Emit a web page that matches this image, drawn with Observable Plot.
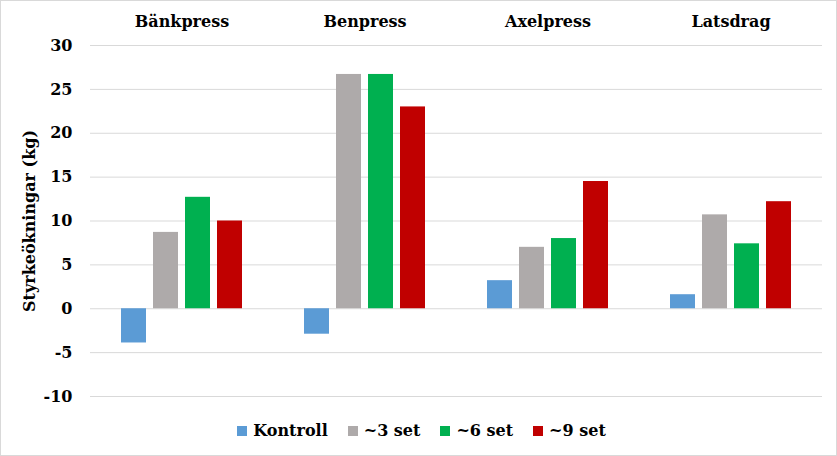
<!DOCTYPE html>
<html>
<head>
<meta charset="utf-8">
<script src="https://cdn.jsdelivr.net/npm/d3@7"></script>
<script src="https://cdn.jsdelivr.net/npm/@observablehq/plot@0.6"></script>
<style>
  html, body { margin: 0; padding: 0; background: #fff; }
  #wrap { position: relative; width: 837px; height: 456px; overflow: hidden; background: #fff; }
  #frame { position: absolute; inset: 0; border: 1px solid #d9d9d9; box-sizing: border-box; pointer-events: none; }
  #chart { position: absolute; left: 0; top: 0; }
  #legend { position: absolute; left: 0; top: 421px; width: 837px; display: flex; justify-content: center;
    font-family: "DejaVu Serif", "Liberation Serif", serif; font-weight: bold; font-size: 16px; color: #000; padding-left: 6px; box-sizing: border-box; }
  .item { display: flex; align-items: center; margin: 0 10px; }
  .sw { width: 10px; height: 10px; margin-right: 6px; }
</style>
</head>
<body>
<div id="wrap">
  <div id="chart"></div>
  <div id="legend"></div>
  <div id="frame"></div>
</div>
<script>
const categories = ["Bänkpress", "Benpress", "Axelpress", "Latsdrag"];
const series = ["Kontroll", "~3 set", "~6 set", "~9 set"];
const kontroll = [-3.9, -2.9, 3.2, 1.6];
const set3 = [8.7, 26.7, 7.0, 10.7];
const set6 = [12.7, 26.7, 8.0, 7.4];
const set9 = [10.0, 23.0, 14.5, 12.2];
const colors = ["#5b9bd5", "#aeaaaa", "#00b050", "#c00000"];
const yTicks = [-10, -5, 0, 5, 10, 15, 20, 25, 30];
const yLabel = "Styrkeökningar (kg)";

const valuesBySeries = [kontroll, set3, set6, set9];
const data = [];
categories.forEach((c, i) => {
  series.forEach((s, j) => {
    data.push({category: c, series: s, value: valuesBySeries[j][i]});
  });
});

const chart = Plot.plot({
  width: 837,
  height: 412,
  marginTop: 45,
  marginBottom: 16,
  marginLeft: 88,
  marginRight: 14,
  style: {fontFamily: "'DejaVu Serif', 'Liberation Serif', serif", fontSize: "16px", fontWeight: "bold", color: "#000", background: "transparent"},
  fx: {domain: categories, padding: 0},
  x: {domain: series, paddingInner: 0.21, paddingOuter: 0.89},
  y: {domain: [-10, 30]},
  color: {domain: series, range: colors},
  marks: [
    Plot.gridY(yTicks, {stroke: "#d9d9d9", strokeOpacity: 1, strokeWidth: 1}),
    Plot.barY(data, {fx: "category", x: "series", y: "value", fill: "series"}),
    Plot.axisFx({anchor: "top", tickSize: 0, tickPadding: 19, label: null}),
    Plot.axisX({ticks: [], label: null, tickSize: 0}),
    Plot.axisY(yTicks, {tickSize: 0, tickPadding: 18, tickFormat: d => String(d), label: yLabel, labelAnchor: "center", labelOffset: 67, labelArrow: "none"})
  ]
});
document.getElementById("chart").appendChild(chart);

const legend = document.getElementById("legend");
series.forEach((s, i) => {
  const it = document.createElement("div");
  it.className = "item";
  const sw = document.createElement("div");
  sw.className = "sw";
  sw.style.background = colors[i];
  const t = document.createElement("span");
  t.textContent = s;
  it.appendChild(sw);
  it.appendChild(t);
  legend.appendChild(it);
});
</script>
</body>
</html>
